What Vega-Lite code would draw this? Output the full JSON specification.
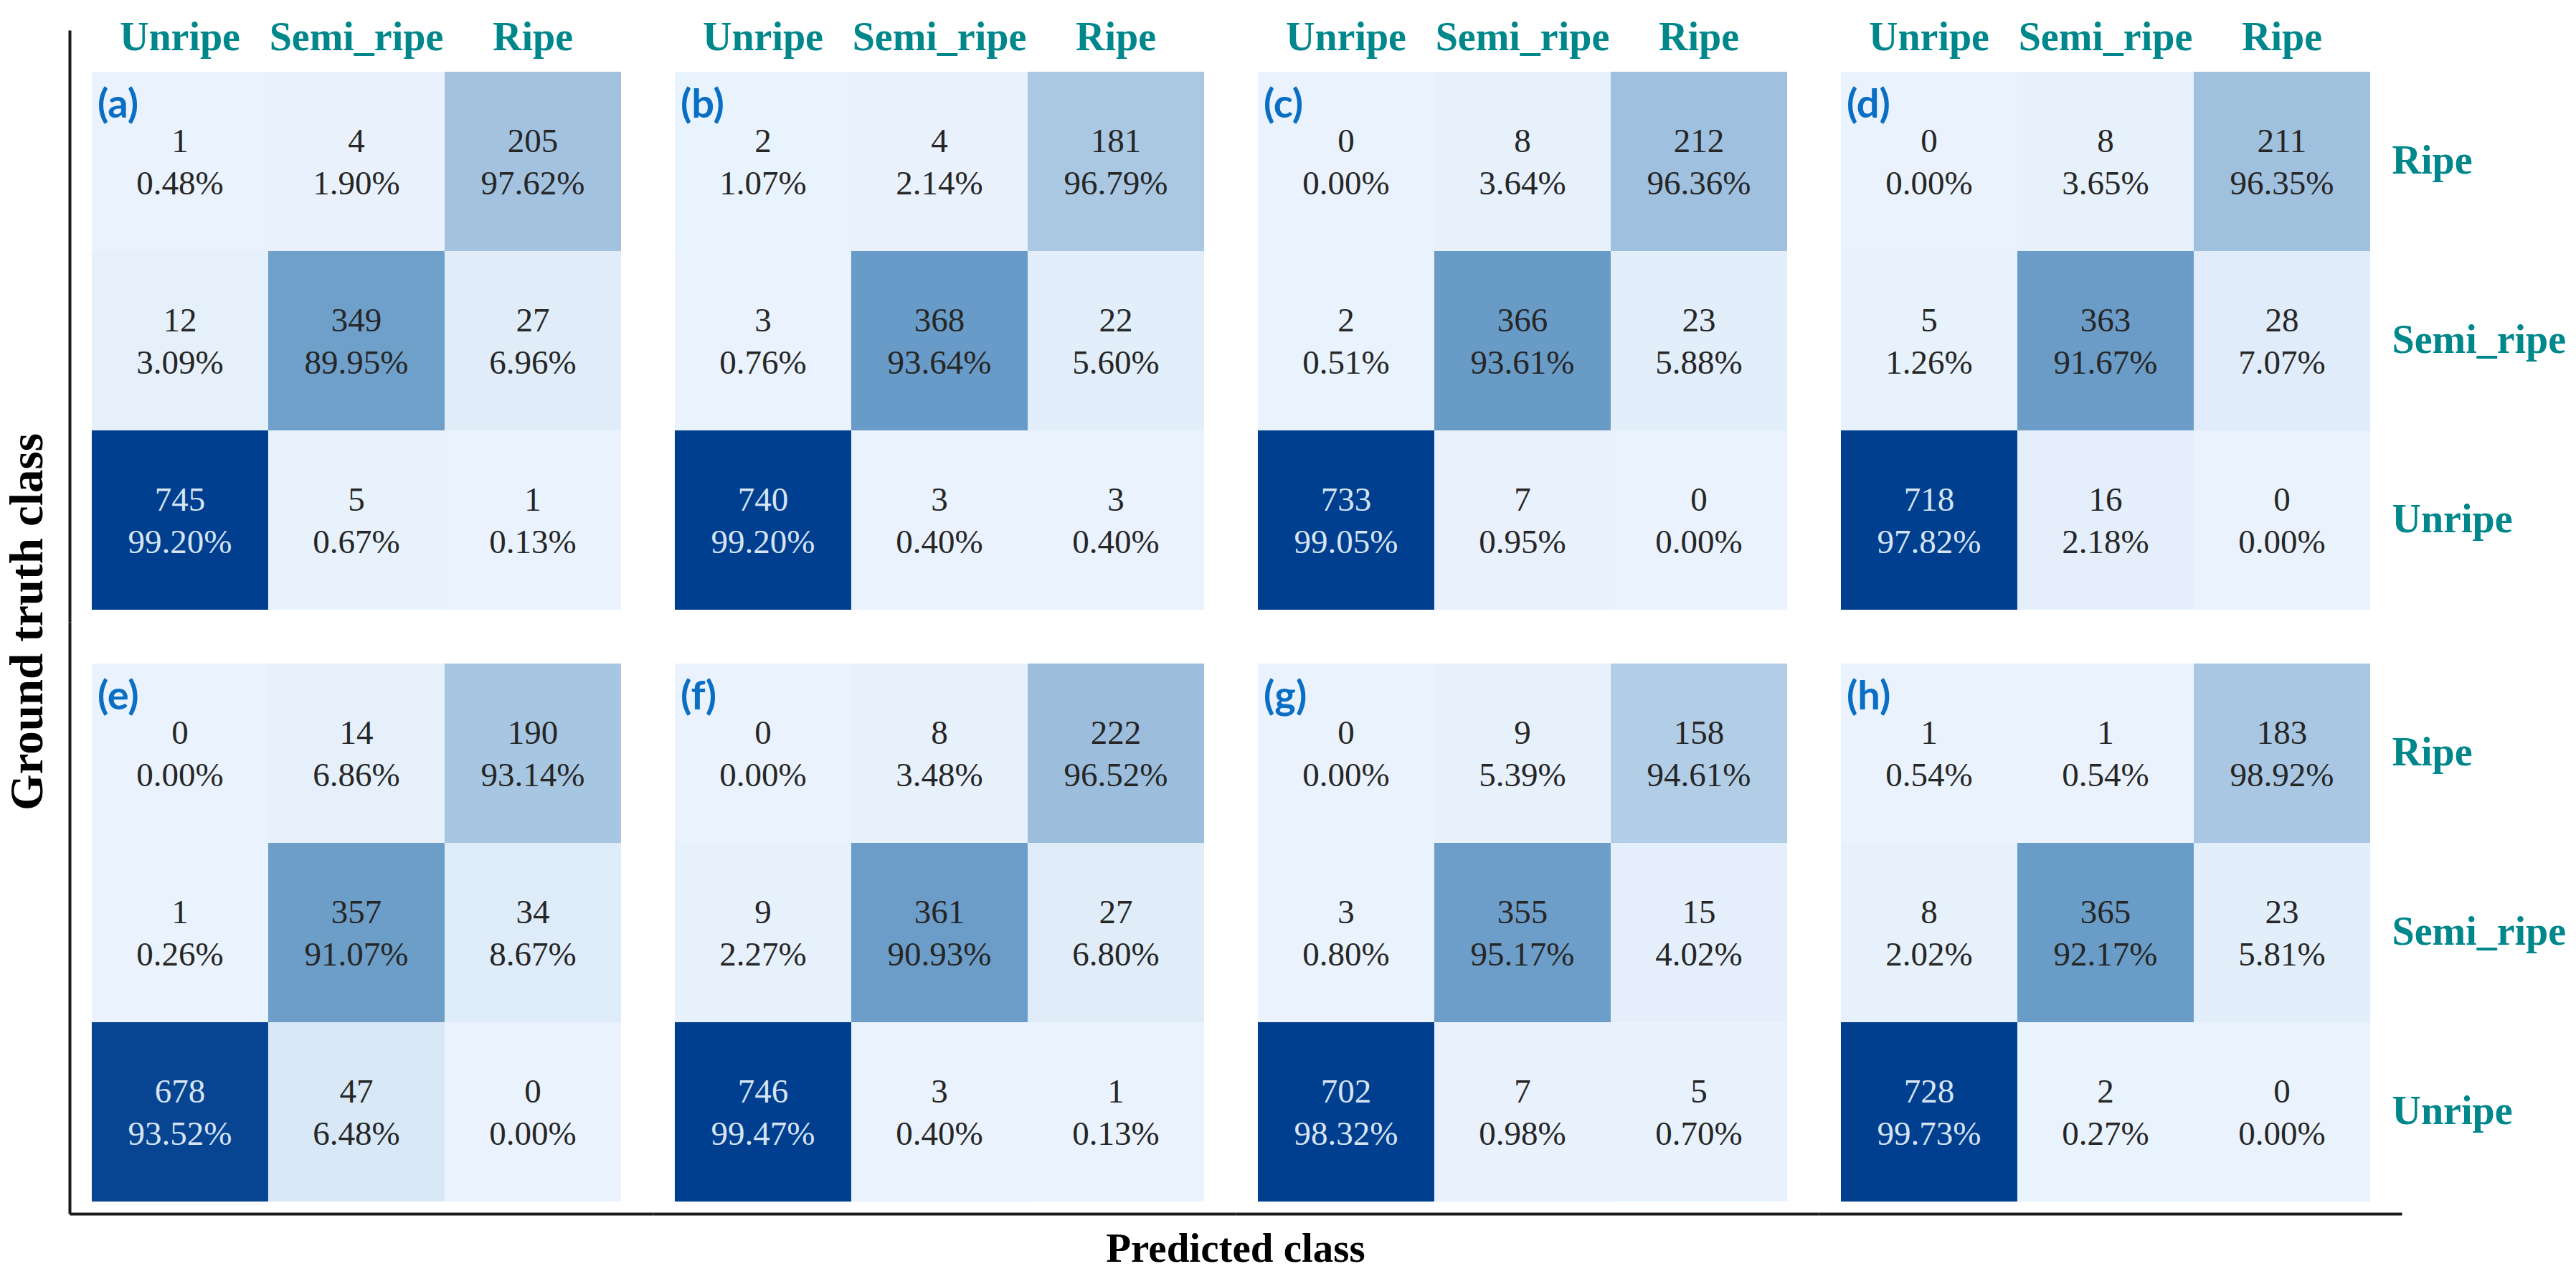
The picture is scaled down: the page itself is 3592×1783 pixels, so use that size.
{
  "$schema": "https://vega.github.io/schema/vega-lite/v6.json",
  "background": "white",
  "padding": {"left": 6, "top": 24, "right": 8, "bottom": 4},
  "data": {"values": [
    {"panel":"a","truth":"Ripe","pred":"Unripe","n":1,"pct":0.48},
    {"panel":"a","truth":"Ripe","pred":"Semi_ripe","n":4,"pct":1.90},
    {"panel":"a","truth":"Ripe","pred":"Ripe","n":205,"pct":97.62},
    {"panel":"a","truth":"Semi_ripe","pred":"Unripe","n":12,"pct":3.09},
    {"panel":"a","truth":"Semi_ripe","pred":"Semi_ripe","n":349,"pct":89.95},
    {"panel":"a","truth":"Semi_ripe","pred":"Ripe","n":27,"pct":6.96},
    {"panel":"a","truth":"Unripe","pred":"Unripe","n":745,"pct":99.20},
    {"panel":"a","truth":"Unripe","pred":"Semi_ripe","n":5,"pct":0.67},
    {"panel":"a","truth":"Unripe","pred":"Ripe","n":1,"pct":0.13},
    {"panel":"b","truth":"Ripe","pred":"Unripe","n":2,"pct":1.07},
    {"panel":"b","truth":"Ripe","pred":"Semi_ripe","n":4,"pct":2.14},
    {"panel":"b","truth":"Ripe","pred":"Ripe","n":181,"pct":96.79},
    {"panel":"b","truth":"Semi_ripe","pred":"Unripe","n":3,"pct":0.76},
    {"panel":"b","truth":"Semi_ripe","pred":"Semi_ripe","n":368,"pct":93.64},
    {"panel":"b","truth":"Semi_ripe","pred":"Ripe","n":22,"pct":5.60},
    {"panel":"b","truth":"Unripe","pred":"Unripe","n":740,"pct":99.20},
    {"panel":"b","truth":"Unripe","pred":"Semi_ripe","n":3,"pct":0.40},
    {"panel":"b","truth":"Unripe","pred":"Ripe","n":3,"pct":0.40},
    {"panel":"c","truth":"Ripe","pred":"Unripe","n":0,"pct":0.00},
    {"panel":"c","truth":"Ripe","pred":"Semi_ripe","n":8,"pct":3.64},
    {"panel":"c","truth":"Ripe","pred":"Ripe","n":212,"pct":96.36},
    {"panel":"c","truth":"Semi_ripe","pred":"Unripe","n":2,"pct":0.51},
    {"panel":"c","truth":"Semi_ripe","pred":"Semi_ripe","n":366,"pct":93.61},
    {"panel":"c","truth":"Semi_ripe","pred":"Ripe","n":23,"pct":5.88},
    {"panel":"c","truth":"Unripe","pred":"Unripe","n":733,"pct":99.05},
    {"panel":"c","truth":"Unripe","pred":"Semi_ripe","n":7,"pct":0.95},
    {"panel":"c","truth":"Unripe","pred":"Ripe","n":0,"pct":0.00},
    {"panel":"d","truth":"Ripe","pred":"Unripe","n":0,"pct":0.00},
    {"panel":"d","truth":"Ripe","pred":"Semi_ripe","n":8,"pct":3.65},
    {"panel":"d","truth":"Ripe","pred":"Ripe","n":211,"pct":96.35},
    {"panel":"d","truth":"Semi_ripe","pred":"Unripe","n":5,"pct":1.26},
    {"panel":"d","truth":"Semi_ripe","pred":"Semi_ripe","n":363,"pct":91.67},
    {"panel":"d","truth":"Semi_ripe","pred":"Ripe","n":28,"pct":7.07},
    {"panel":"d","truth":"Unripe","pred":"Unripe","n":718,"pct":97.82},
    {"panel":"d","truth":"Unripe","pred":"Semi_ripe","n":16,"pct":2.18},
    {"panel":"d","truth":"Unripe","pred":"Ripe","n":0,"pct":0.00},
    {"panel":"e","truth":"Ripe","pred":"Unripe","n":0,"pct":0.00},
    {"panel":"e","truth":"Ripe","pred":"Semi_ripe","n":14,"pct":6.86},
    {"panel":"e","truth":"Ripe","pred":"Ripe","n":190,"pct":93.14},
    {"panel":"e","truth":"Semi_ripe","pred":"Unripe","n":1,"pct":0.26},
    {"panel":"e","truth":"Semi_ripe","pred":"Semi_ripe","n":357,"pct":91.07},
    {"panel":"e","truth":"Semi_ripe","pred":"Ripe","n":34,"pct":8.67},
    {"panel":"e","truth":"Unripe","pred":"Unripe","n":678,"pct":93.52},
    {"panel":"e","truth":"Unripe","pred":"Semi_ripe","n":47,"pct":6.48},
    {"panel":"e","truth":"Unripe","pred":"Ripe","n":0,"pct":0.00},
    {"panel":"f","truth":"Ripe","pred":"Unripe","n":0,"pct":0.00},
    {"panel":"f","truth":"Ripe","pred":"Semi_ripe","n":8,"pct":3.48},
    {"panel":"f","truth":"Ripe","pred":"Ripe","n":222,"pct":96.52},
    {"panel":"f","truth":"Semi_ripe","pred":"Unripe","n":9,"pct":2.27},
    {"panel":"f","truth":"Semi_ripe","pred":"Semi_ripe","n":361,"pct":90.93},
    {"panel":"f","truth":"Semi_ripe","pred":"Ripe","n":27,"pct":6.80},
    {"panel":"f","truth":"Unripe","pred":"Unripe","n":746,"pct":99.47},
    {"panel":"f","truth":"Unripe","pred":"Semi_ripe","n":3,"pct":0.40},
    {"panel":"f","truth":"Unripe","pred":"Ripe","n":1,"pct":0.13},
    {"panel":"g","truth":"Ripe","pred":"Unripe","n":0,"pct":0.00},
    {"panel":"g","truth":"Ripe","pred":"Semi_ripe","n":9,"pct":5.39},
    {"panel":"g","truth":"Ripe","pred":"Ripe","n":158,"pct":94.61},
    {"panel":"g","truth":"Semi_ripe","pred":"Unripe","n":3,"pct":0.80},
    {"panel":"g","truth":"Semi_ripe","pred":"Semi_ripe","n":355,"pct":95.17},
    {"panel":"g","truth":"Semi_ripe","pred":"Ripe","n":15,"pct":4.02},
    {"panel":"g","truth":"Unripe","pred":"Unripe","n":702,"pct":98.32},
    {"panel":"g","truth":"Unripe","pred":"Semi_ripe","n":7,"pct":0.98},
    {"panel":"g","truth":"Unripe","pred":"Ripe","n":5,"pct":0.70},
    {"panel":"h","truth":"Ripe","pred":"Unripe","n":1,"pct":0.54},
    {"panel":"h","truth":"Ripe","pred":"Semi_ripe","n":1,"pct":0.54},
    {"panel":"h","truth":"Ripe","pred":"Ripe","n":183,"pct":98.92},
    {"panel":"h","truth":"Semi_ripe","pred":"Unripe","n":8,"pct":2.02},
    {"panel":"h","truth":"Semi_ripe","pred":"Semi_ripe","n":365,"pct":92.17},
    {"panel":"h","truth":"Semi_ripe","pred":"Ripe","n":23,"pct":5.81},
    {"panel":"h","truth":"Unripe","pred":"Unripe","n":728,"pct":99.73},
    {"panel":"h","truth":"Unripe","pred":"Semi_ripe","n":2,"pct":0.27},
    {"panel":"h","truth":"Unripe","pred":"Ripe","n":0,"pct":0.00}
  ]},
  "transform": [
    {"calculate": "indexof('abcdefgh', datum.panel) % 4", "as": "pcol"},
    {"calculate": "floor(indexof('abcdefgh', datum.panel) / 4)", "as": "prow"},
    {"calculate": "format(datum.pct, '.2f') + '%'", "as": "pctLabel"},
    {"calculate": "'(' + datum.panel + ')'", "as": "tag"}
  ],
  "facet": {
    "row": {"field": "prow", "type": "ordinal", "header": {"labels": false, "title": "Ground truth class", "titleOrient": "left", "titlePadding": 14, "titleFontSize": 65}},
    "column": {"field": "pcol", "type": "ordinal", "header": {"labels": false, "title": "Predicted class", "titleOrient": "bottom", "titlePadding": 12, "titleFontSize": 57}}
  },
  "spacing": {"row": 0, "column": 0},
  "spec": {
    "width": 813,
    "height": 825,
    "layer": [
      {
        "mark": {"type": "rect", "strokeWidth": 0},
        "encoding": {
          "x": {"field": "pred", "type": "nominal", "sort": ["Unripe", "Semi_ripe", "Ripe"],
                "scale": {"domain": ["Unripe", "Semi_ripe", "Ripe"], "paddingInner": 0, "paddingOuter": 0.1524, "align": 0.413},
                "axis": {"orient": "bottom", "labels": false, "ticks": false, "domain": true, "domainColor": "#1a1a1a", "domainWidth": 4, "title": null, "grid": false}},
          "y": {"field": "truth", "type": "nominal", "sort": ["Ripe", "Semi_ripe", "Unripe"],
                "scale": {"domain": ["Ripe", "Semi_ripe", "Unripe"], "paddingInner": 0, "paddingOuter": 0.15, "align": 0.7733},
                "axis": {"orient": "left", "labels": false, "ticks": false, "domain": true, "domainColor": "#1a1a1a", "domainWidth": 4, "title": null, "grid": false}},
          "fill": {"field": "n", "type": "quantitative", "legend": null,
                   "scale": {"domain": [0, 360, 700], "range": ["#eaf3fd", "#6b9dc8", "#003f8f"], "clamp": true, "interpolate": "rgb"}}
        }
      },
      {
        "mark": {"type": "text", "font": "Liberation Serif, Times New Roman, Tinos, serif", "fontSize": 47, "baseline": "middle", "dy": -27},
        "encoding": {
          "x": {"field": "pred", "type": "nominal",
                "axis": {"orient": "top", "offset": -58, "labels": true, "ticks": false, "tickSize": 0, "domain": false, "title": null, "grid": false,
                         "labelFont": "Liberation Serif, Times New Roman, Tinos, serif", "labelFontWeight": "bold", "labelFontSize": 56, "labelColor": "#00878b", "labelLimit": 0,
                         "labelPadding": 31, "labelBaseline": "alphabetic", "labelAngle": 0}},
          "y": {"field": "truth", "type": "nominal",
                "axis": {"orient": "right", "offset": -44, "labels": true, "ticks": false, "tickSize": 0, "domain": false, "title": null, "grid": false,
                         "labelFont": "Liberation Serif, Times New Roman, Tinos, serif", "labelFontWeight": "bold", "labelFontSize": 56, "labelColor": "#00878b", "labelLimit": 0,
                         "labelPadding": 30, "labelAlign": "left", "labelBaseline": "middle"}},
          "text": {"field": "n", "type": "quantitative"},
          "color": {"condition": {"test": "datum.n > 500", "value": "#d6e4f4"}, "value": "#262626"}
        }
      },
      {
        "mark": {"type": "text", "font": "Liberation Serif, Times New Roman, Tinos, serif", "fontSize": 47, "baseline": "middle", "dy": 32},
        "encoding": {
          "x": {"field": "pred", "type": "nominal", "axis": null},
          "y": {"field": "truth", "type": "nominal", "axis": null},
          "text": {"field": "pctLabel", "type": "nominal"},
          "color": {"condition": {"test": "datum.n > 500", "value": "#d6e4f4"}, "value": "#262626"}
        }
      },
      {
        "transform": [{"filter": "datum.truth == 'Ripe' && datum.pred == 'Unripe'"}],
        "mark": {"type": "text", "font": "Lato", "fontWeight": "bold", "fontSize": 56, "color": "#0a6fc4", "align": "left", "baseline": "alphabetic", "dx": 8, "dy": 64},
        "encoding": {
          "x": {"field": "pred", "type": "nominal", "bandPosition": 0, "axis": null},
          "y": {"field": "truth", "type": "nominal", "bandPosition": 0, "axis": null},
          "text": {"field": "tag", "type": "nominal"}
        }
      }
    ],
    "resolve": {"axis": {"x": "independent", "y": "independent"}}
  },
  "config": {
    "view": {"stroke": null},
    "header": {"titleFont": "Liberation Serif, Times New Roman, Tinos, serif", "titleFontSize": 58, "titleFontWeight": "bold", "titleColor": "#000000"}
  }
}
